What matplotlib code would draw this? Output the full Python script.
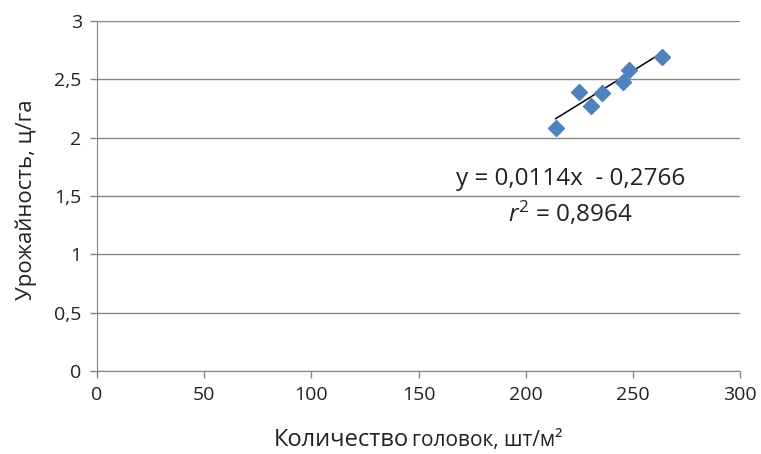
import numpy as np
import matplotlib
matplotlib.use("Agg")
import matplotlib.pyplot as plt

plt.rcParams['font.family'] = ['Open Sans', 'DejaVu Sans']
plt.rcParams['mathtext.fontset'] = 'custom'
plt.rcParams['mathtext.rm'] = 'Open Sans'
plt.rcParams['mathtext.it'] = 'Open Sans:italic'

# heads per m2 vs. yield
heads = [214, 225, 230.5, 235.5, 245.5, 248, 263.5]
yield_t = [2.08, 2.39, 2.27, 2.38, 2.48, 2.58, 2.69]
slope = 0.0114
intercept = -0.2766
r2 = 0.8964

x_ticks = [0, 50, 100, 150, 200, 250, 300]
y_ticks = [0, 0.5, 1, 1.5, 2, 2.5, 3]
y_tick_labels = ['0', '0,5', '1', '1,5', '2', '2,5', '3']

grey = '#868686'
ink = '#222222'
fig = plt.figure(figsize=(7.61, 4.54), dpi=100)
ax = fig.add_axes([0.1275, 0.1828, 0.845, 0.7709])

ax.plot(heads, yield_t, 'D', color='#4f81bd', markersize=8.5, zorder=3)
xt = np.array([min(heads), max(heads)])
ax.plot(xt, slope * xt + intercept, color='black', lw=1.1, zorder=2)

ax.set_xlim(0, 300)
ax.set_ylim(0, 3)
ax.set_xticks(x_ticks)
ax.set_yticks(y_ticks)
ax.set_yticklabels(y_tick_labels)
ax.yaxis.grid(True, color=grey, lw=1)
ax.set_axisbelow(True)
for s in ['top', 'right']:
    ax.spines[s].set_visible(False)
for s in ['left', 'bottom']:
    ax.spines[s].set_color(grey)
ax.tick_params(colors=grey, length=5, width=1, labelcolor=ink,
               labelsize=14, pad=6)

# trendline equation
eq = 'y = {:.4f}x  - {:.4f}'.format(slope, -intercept).replace('.', ',')
ax.text(221, 1.65, eq, fontsize=17.5, ha='center', va='center', color=ink)
ax.text(221, 1.35, r'$r^2$ = ' + '{:.4f}'.format(r2).replace('.', ','),
        fontsize=17.5, ha='center', va='center', color=ink)

fig.text(0.035, 0.56, 'Урожайность, ц/га', rotation=90, fontsize=16,
         ha='center', va='center', color=ink)
fig.text(0.36, 0.018, 'Количество', fontsize=17, ha='left', va='baseline',
         color=ink)
fig.text(0.541, 0.018, 'головок, шт/м²', fontsize=15, ha='left',
         va='baseline', color=ink)

fig.savefig('out.png', dpi=100)
